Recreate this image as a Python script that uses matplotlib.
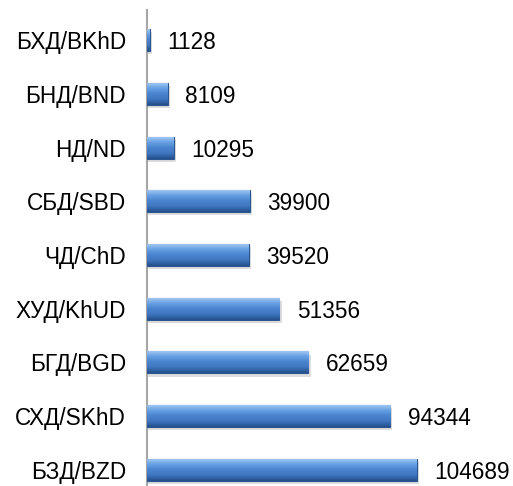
import matplotlib.pyplot as plt
import numpy as np
from matplotlib.colors import LinearSegmentedColormap

plt.rcParams['font.family'] = ['Liberation Sans', 'DejaVu Sans']

categories = ["БХД/BKhD", "БНД/BND", "НД/ND", "СБД/SBD", "ЧД/ChD",
              "ХУД/KhUD", "БГД/BGD", "СХД/SKhD", "БЗД/BZD"]
values = [1128, 8109, 10295, 39900, 39520, 51356, 62659, 94344, 104689]

fig = plt.figure(figsize=(5.13, 4.86), dpi=100)
ax = fig.add_axes([0.2865, 0.0, 0.7135, 0.979])

pos = np.arange(len(categories))
bar_h = 0.41
bars = ax.barh(pos, values, height=bar_h, color='#4a84cf',
               edgecolor='#2a558f', linewidth=0.8, zorder=3)

# vertical gradient for the bevel look
cmap = LinearSegmentedColormap.from_list(
    'bev', ['#a9cdf4', '#6aa3e4', '#4a84cf', '#3f76bf', '#24508c'])
grad = np.linspace(0, 1, 64).reshape(-1, 1)
for b in bars:
    x0, y0 = b.get_x(), b.get_y()
    w, h = b.get_width(), b.get_height()
    # shadow
    ax.add_patch(plt.Rectangle((x0, y0 + h * 0.14), w + 900, h,
                               color='#c8c8c8', alpha=0.6, zorder=2, lw=0))
    im = ax.imshow(grad, extent=(x0, x0 + w, y0 + h, y0), aspect='auto',
                   cmap=cmap, zorder=4, interpolation='bicubic')
    im.set_clip_path(b)

for p, v in zip(pos, values):
    ax.annotate(str(v), (v, p), xytext=(12.5, 0), textcoords='offset points',
                ha='left', va='center_baseline', fontsize=16.3, color='#000000')

ax.set_xlim(0, 142000)
ax.set_ylim(len(categories) - 1 + 0.3, -0.56)
ax.set_yticks(pos)
ax.set_yticklabels(categories, fontsize=16.3, va='center_baseline')
ax.tick_params(axis='y', length=0, pad=15)
ax.set_xticks([])
for s in ['top', 'right', 'bottom']:
    ax.spines[s].set_visible(False)
ax.spines['left'].set_color('#a6a6a6')
ax.spines['left'].set_linewidth(1.5)

fig.savefig('out.png', dpi=100)
